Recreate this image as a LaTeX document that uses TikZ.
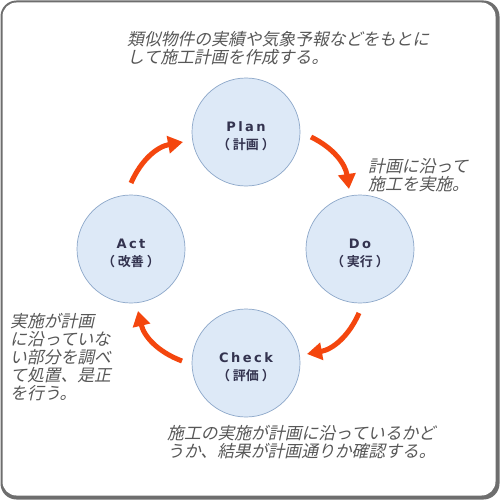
\documentclass[tikz,border=0pt]{standalone}
\usepackage{fontspec}
\usetikzlibrary{arrows.meta}
\newfontfamily\jpnote[FakeSlant=0.22]{Noto Sans CJK JP}
\newfontfamily\jplbl{Noto Sans CJK JP Bold}
\newfontfamily\latlbl[LetterSpace=19]{DejaVu Sans Bold}
\definecolor{circfill}{HTML}{DDE9F7}
\definecolor{circline}{HTML}{8CA7C9}
\definecolor{lbltext}{HTML}{33334F}
\definecolor{notetext}{HTML}{575757}
\definecolor{arrowcol}{HTML}{F4460E}
\definecolor{framecol}{HTML}{6E6E6E}
\tikzset{
  phase/.style={circle, minimum size=108pt, inner sep=0pt, fill=circfill, draw=circline, line width=0.7pt,
    align=center, text=lbltext, font=\fontsize{13}{18}\selectfont},
  note/.style={anchor=base west, align=left, inner sep=0pt, text=notetext,
    font=\jpnote\fontsize{16.8}{18}\selectfont},
  cyc/.style={line width=5pt, color=arrowcol, -{Triangle[length=15pt,width=17pt]}, bend left=28}
}
\newcommand{\phlabel}[2]{{\latlbl\rule{0pt}{19pt}#1}\\{\jplbl （\hspace{3pt}#2\hspace{3pt}）}}
\begin{document}
\begin{tikzpicture}[x=1pt,y=-1pt]
\useasboundingbox (0,0) rectangle (500,500);
\fill[framecol, rounded corners=16pt] (0.5,0.5) rectangle (499.5,499.5);
\fill[white, rounded corners=14pt] (2.5,2.5) rectangle (495.5,495.5);

\node[phase] (plan) at (246,132) {\phlabel{Plan}{計画}};
\node[phase] (do) at (360,249) {\phlabel{Do}{実行}};
\node[phase] (check) at (246,363) {\phlabel{Check}{評価}};
\node[phase] (act) at (131,249) {\phlabel{Act}{改善}};

\coordinate (a1s) at (311,137); \coordinate (a1e) at (349,189);
\coordinate (a2s) at (359,313); \coordinate (a2e) at (307,354);
\coordinate (a3s) at (182,361); \coordinate (a3e) at (138,311);
\coordinate (a4s) at (131,183); \coordinate (a4e) at (183,142);
\draw[cyc] (a1s) to (a1e);
\draw[cyc] (a2s) to (a2e);
\draw[cyc] (a3s) to (a3e);
\draw[cyc] (a4s) to (a4e);

\node[note] (ntop) at (127,64) {類似物件の実績や気象予報などをもとに\\して施工計画を作成する。};
\node[note] (nright) at (368,190) {計画に沿って\\施工を実施。};
\node[note] (nleft) at (10,399) {実施が計画\\に沿っていな\\い部分を調べ\\て処置、是正\\を行う。};
\node[note] (nbottom) at (167,457) {施工の実施が計画に沿っているかど\\うか、結果が計画通りか確認する。};
\end{tikzpicture}
\end{document}
